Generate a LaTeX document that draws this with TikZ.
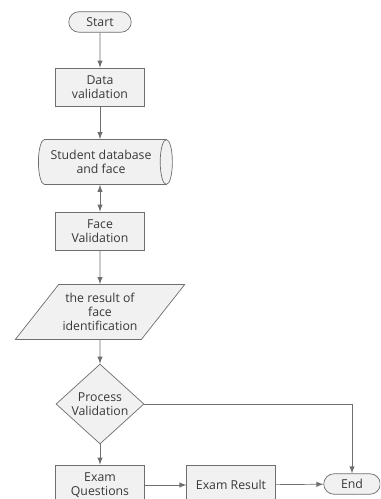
\documentclass[tikz,border=0pt]{standalone}
\usepackage{fontspec}
\setmainfont{Open Sans}
\usepackage{xcolor}
\usepackage{tikz}
\usetikzlibrary{shapes.geometric,shapes.misc}

\definecolor{lncol}{HTML}{6E6E6E}
\definecolor{boxfill}{HTML}{F1F1F1}
\definecolor{txtcol}{HTML}{383838}

\begin{document}
\begin{tikzpicture}[x=0.02cm,y=-0.02cm,>=latex,
            base/.style={draw=lncol, fill=boxfill, text=txtcol, align=center, inner sep=1pt,
                         font=\fontsize{7}{8}\selectfont},
            term/.style={base, shape=rounded rectangle, minimum width=1.32cm, minimum height=0.41cm},
            proc/.style={base, shape=rectangle, minimum width=1.77cm, minimum height=0.76cm},
            datab/.style={base, shape=cylinder, shape aspect=0.45, minimum height=2.68cm, minimum width=0.9cm},
            io/.style={base, shape=trapezium, trapezium left angle=45, trapezium right angle=135,
                       trapezium stretches=true, minimum width=3.4cm, minimum height=1.1cm},
            decide/.style={base, shape=diamond, inner sep=0pt, minimum width=1.76cm, minimum height=1.06cm},
            flow/.style={draw=lncol, ->}]
        \clip (0,0) rectangle (380,499);

        \node[term] (start) at (100,22) {Start};
        \node[proc] (data) at (100,87) {Data\\validation};
        \node[datab] (db) at (101,162) {Student database\\and face};
        \node[proc] (face) at (100,231) {Face\\Validation};
        \node[io] (result) at (100,312) {the result of\\face\\identification};
        \node[decide] (check) at (100,404) {Process\\Validation};
        \node[proc, minimum height=0.8cm] (questions) at (100,485) {Exam\\Questions};
        \node[proc, minimum height=0.8cm] (exres) at (231,485) {Exam Result};
        \node[term, minimum width=1.2cm] (end) at (352,484) {End};

        \draw[flow] (start) -- (data);
        \draw[flow] (data.south) -- (data.south |- db.north);
        \draw[flow, <->] (face.north |- db.south) -- (face.north);
        \draw[flow] (face) -- (result);
        \draw[flow] (result) -- (check);
        \draw[flow] (check) -- (questions);
        \draw[flow] (questions) -- (exres);
        \draw[flow] (exres) -- (end);
        \draw[flow] (check.east) -| (end.north);
    \end{tikzpicture}
\end{document}
